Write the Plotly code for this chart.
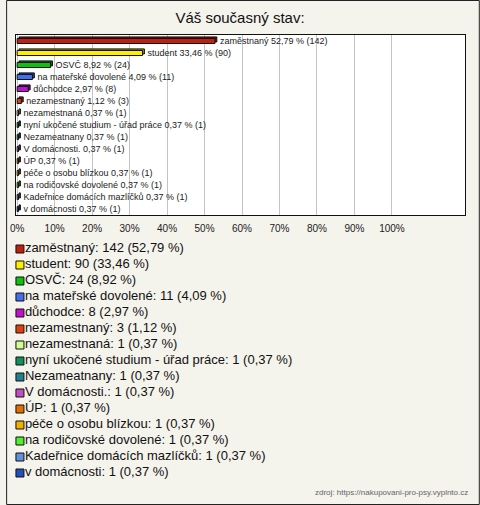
import plotly.graph_objects as go

categories = ["zaměstnaný", "student", "OSVČ", "na mateřské dovolené", "důchodce",
              "nezamestnaný", "nezamestnaná", "nyní ukočené studium - úřad práce",
              "Nezameatnany", "V domácnosti.", "ÚP", "péče o osobu blízkou",
              "na rodičovské dovolené", "Kadeřnice domácích mazlíčků", "v domácnosti"]
counts = [142, 90, 24, 11, 8, 3, 1, 1, 1, 1, 1, 1, 1, 1, 1]
percents = [52.79, 33.46, 8.92, 4.09, 2.97, 1.12, 0.37, 0.37, 0.37, 0.37, 0.37, 0.37, 0.37, 0.37, 0.37]
colors = ["#c02010", "#ffee00", "#10c010", "#4070f0", "#c010d0", "#e04010", "#d0ff90",
          "#109060", "#208090", "#c050c0", "#e07000", "#f0b000", "#50f030", "#6090e0", "#2050c0"]
tick_vals = [0, 10, 20, 30, 40, 50, 60, 70, 80, 90, 100]
tick_text = [f"{v}%" for v in tick_vals]
title_text = "Váš současný stav:"
source_text = "zdroj: https://nakupovani-pro-psy.vyplnto.cz"


def fmt(p):
    return f"{p:.2f}".replace(".", ",")


def darker(hx, f=0.6):
    r, g, b = int(hx[1:3], 16), int(hx[3:5], 16), int(hx[5:7], 16)
    return f"rgb({int(r*f)},{int(g*f)},{int(b*f)})"


bar_labels = [f"\u00a0\u00a0{c} {fmt(p)} % ({n})" for c, p, n in zip(categories, percents, counts)]
legend_labels = [f"{c}: {n} ({fmt(p)} %)" for c, p, n in zip(categories, percents, counts)]
idx = list(range(len(categories)))

FONT = "Liberation Sans, Arial, sans-serif"
BW = 0.42

fig = go.Figure()
# depth (3D back face)
fig.add_trace(go.Bar(
    x=percents, y=idx, orientation="h", base=0.5,
    marker=dict(color=[darker(c) for c in colors], line=dict(color="#111111", width=1)),
    width=BW, offset=-BW / 2 - 0.13,
    showlegend=False, hoverinfo="skip", xaxis="x", yaxis="y",
))
fig.add_trace(go.Bar(
    x=percents, y=idx, orientation="h",
    marker=dict(color=colors, line=dict(color="#111111", width=1)),
    width=BW, offset=-BW / 2,
    text=bar_labels, textposition="outside", constraintext="none",
    textfont=dict(family=FONT, size=9, color="#222222"),
    cliponaxis=False, showlegend=False, hoverinfo="skip",
    xaxis="x", yaxis="y",
))
fig.add_trace(go.Scatter(
    x=[4] * len(categories), y=idx, mode="markers",
    marker=dict(symbol="square", size=8, color=colors, line=dict(color="#111111", width=1)),
    cliponaxis=False, showlegend=False, hoverinfo="skip",
    xaxis="x2", yaxis="y2",
))
fig.add_trace(go.Scatter(
    x=[9] * len(categories), y=idx, mode="text",
    text=legend_labels, textposition="middle right",
    textfont=dict(family=FONT, size=13, color="#111111"),
    cliponaxis=False, showlegend=False, hoverinfo="skip",
    xaxis="x2", yaxis="y2",
))

W, H = 480, 505
mt, mb, ml, mr = 35, 20, 10, 15
ph = H - mt - mb
pw = W - ml - mr
BG = "#f4f3ec"


def fy(py):
    return (H - mb - py) / ph


fig.update_layout(
    width=W, height=H,
    margin=dict(l=ml, r=mr, t=mt, b=mb),
    paper_bgcolor=BG, plot_bgcolor=BG,
    showlegend=False, barmode="overlay",
    title=dict(text=title_text, x=0.5, xanchor="center", y=1 - 18 / H, yanchor="middle",
               font=dict(family=FONT, size=15, color="#111111")),
    xaxis=dict(domain=[0, 1], range=[-0.3, 119.5], tickvals=tick_vals, ticktext=tick_text,
               showgrid=True, gridcolor="#c4c4c4", gridwidth=1, zeroline=False,
               showline=True, linecolor="#111111", linewidth=1, mirror=True,
               ticks="", ticklabelstandoff=4,
               tickfont=dict(family=FONT, size=10, color="#222222"),
               anchor="y", fixedrange=True),
    yaxis=dict(domain=[fy(215), 1], range=[14.5, -0.5], showticklabels=False,
               showgrid=False, zeroline=False, showline=True, linecolor="#111111",
               linewidth=1, mirror=True, ticks="", anchor="x", fixedrange=True),
    xaxis2=dict(domain=[0, 1], range=[0, 455], visible=False, anchor="y2", fixedrange=True),
    yaxis2=dict(domain=[fy(481), fy(241)], range=[14.5, -0.5], visible=False,
                anchor="x2", fixedrange=True),
    shapes=[
        dict(type="rect", xref="x domain", yref="y domain", x0=0, x1=1, y0=0, y1=1,
             fillcolor="white", line=dict(width=0), layer="below"),
        dict(type="rect", xref="paper", yref="paper",
             x0=-(ml - 0.5) / pw, x1=1 + (mr - 0.5) / pw,
             y0=-(mb - 0.5) / ph, y1=1 + (mt - 0.5) / ph,
             line=dict(color="#222222", width=1), fillcolor="rgba(0,0,0,0)", layer="above"),
    ],
    annotations=[dict(text=source_text, xref="paper", yref="paper",
                      x=(470 - ml) / pw, y=fy(493), xanchor="right", yanchor="middle",
                      showarrow=False, font=dict(family=FONT, size=8, color="#666666"))],
)

fig.write_html("out.html", config={"displayModeBar": False},
               post_script="document.body.style.margin='0';document.body.style.padding='0';")
